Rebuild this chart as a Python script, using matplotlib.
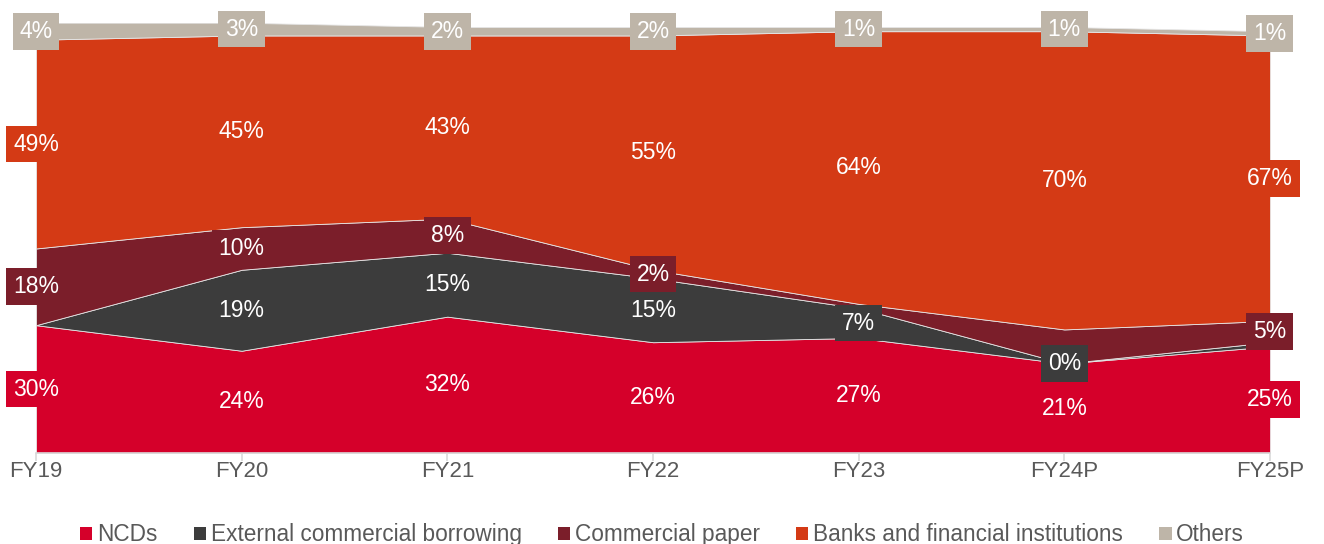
import numpy as np
import matplotlib.pyplot as plt
from matplotlib.patches import Patch

plt.rcParams['font.family'] = ['Liberation Sans', 'DejaVu Sans']

# Funding mix by source, % share
years = ['FY19', 'FY20', 'FY21', 'FY22', 'FY23', 'FY24P', 'FY25P']
series_names = ['NCDs', 'External commercial borrowing', 'Commercial paper',
                'Banks and financial institutions', 'Others']
ncds = [30, 24, 32, 26, 27, 21, 25]
ecb = [0, 19, 15, 15, 7, 0, 1]
cp = [18, 10, 8, 2, 1, 8, 5]
banks = [49, 45, 43, 55, 64, 70, 67]
others = [4, 3, 2, 2, 1, 1, 1]

# which points carry a data label (unlabelled ones are thin slivers)
ncds_lab = [True] * 7
ecb_lab = [False, True, True, True, True, True, False]
cp_lab = [True, True, True, True, False, False, True]
banks_lab = [True] * 7
others_lab = [True] * 7

colors = ['#D5002A', '#3C3C3C', '#7B1E2A', '#D43A15', '#BEB5A8']

data = np.array([ncds, ecb, cp, banks, others], dtype=float)
labs = [ncds_lab, ecb_lab, cp_lab, banks_lab, others_lab]
x = np.arange(len(years))

fig = plt.figure(figsize=(13.24, 5.44), dpi=100)
ax = fig.add_axes([0.0272, 0.1673, 0.932, 0.791])

ax.stackplot(x, data, colors=colors, edgecolor='#e6e6e6', linewidth=0.6)

tops = np.cumsum(data, axis=0)
bottoms = tops - data
for i in range(len(data)):
    for j in range(len(years)):
        if not labs[i][j]:
            continue
        ymid = (tops[i][j] + bottoms[i][j]) / 2
        ax.text(x[j], ymid, f'{int(data[i][j])}%', ha='center', va='center',
                color='white', fontsize=16.5, zorder=5, clip_on=False,
                bbox=dict(boxstyle='square,pad=0.3', facecolor=colors[i],
                          edgecolor='none'))

ax.set_xlim(0, len(years) - 1)
ax.set_ylim(0, 101)
ax.set_xticks(x)
ax.set_xticklabels(years, fontsize=16, color='#595959')
ax.tick_params(axis='x', length=6, color='#d9d9d9', pad=0, width=1.2)
ax.set_yticks([])
for s in ['top', 'left', 'right']:
    ax.spines[s].set_visible(False)
ax.spines['bottom'].set_color('#d9d9d9')
ax.spines['bottom'].set_linewidth(1.2)

handles = [Patch(facecolor=c, label=n) for c, n in zip(colors, series_names)]
fig.legend(handles=handles, loc='lower center', bbox_to_anchor=(0.5, -0.042),
           ncol=5, frameon=False, fontsize=16.3, handlelength=0.55,
           handleheight=0.55, handletextpad=0.2, columnspacing=1.6,
           labelcolor='#595959')

fig.savefig('out.png', dpi=100)
